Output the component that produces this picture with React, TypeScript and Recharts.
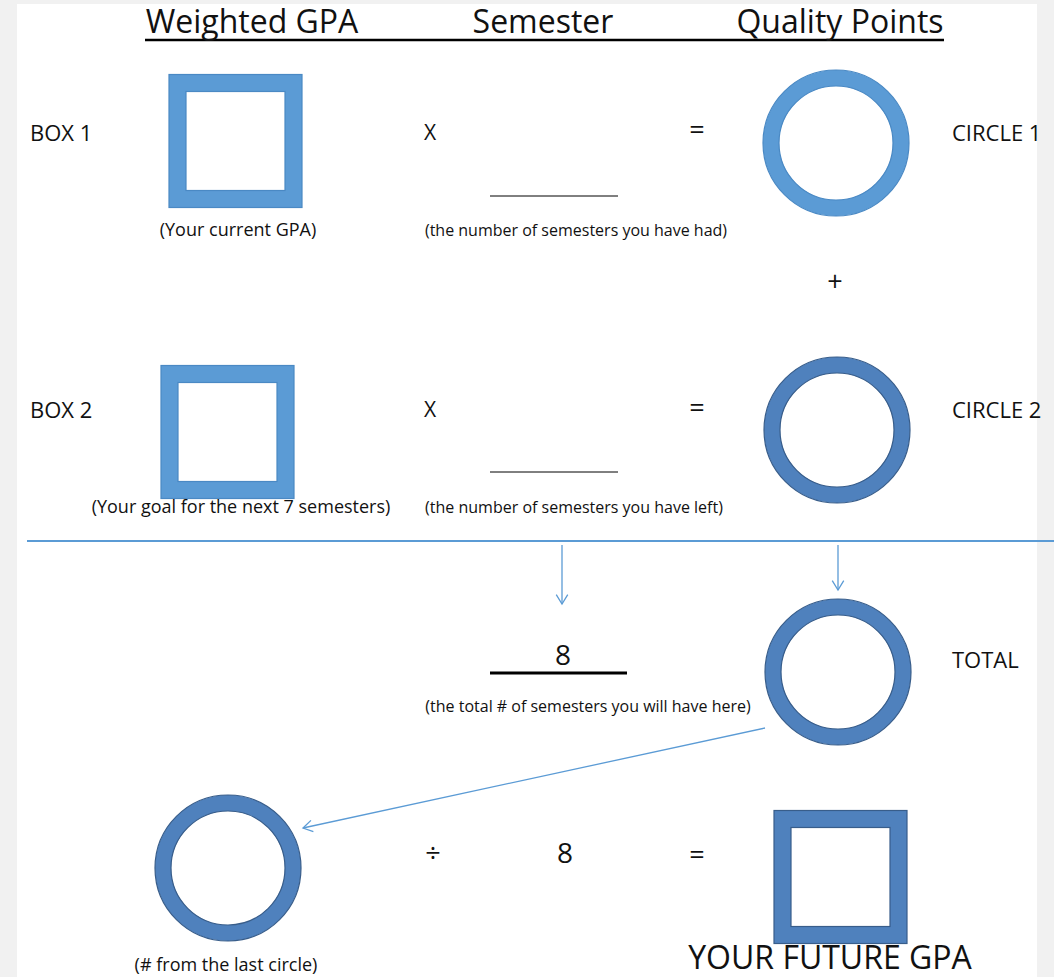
import {
  ReferenceArea,
  ReferenceLine,
  Scatter,
  ScatterChart,
  XAxis,
  YAxis,
} from "recharts";

// worksheet canvas, in chart units (1 unit = 1px)
const W = 1054;
const H = 977;

const LIGHT = "#5b9bd5";
const LIGHT_EDGE = "#4a89c4";
const DARK = "#4f81bd";
const DARK_EDGE = "#385d8a";
const ARROW = "#5b9bd5";
const INK = "#111111";

const BOX = 133;
const BOX_BAND = 17;
const RING_R = 73;
const RING_BAND = 16;

// shapes (centres)
const lightBoxes = [
  { x: 235.5, y: 141 },
  { x: 227.5, y: 432 },
];
const darkBoxes = [{ x: 840.5, y: 877 }];
const lightRings = [{ x: 836, y: 143 }];
const darkRings = [
  { x: 837, y: 430 },
  { x: 838, y: 672 },
  { x: 228, y: 868 },
];

// texts (x = anchor, y = baseline)
const headings = [
  { x: 252, y: 33, text: "Weighted GPA" },
  { x: 543, y: 33, text: "Semester" },
  { x: 840, y: 33, text: "Quality Points" },
];
const sideLabels = [
  { x: 30, y: 141, text: "BOX 1" },
  { x: 30, y: 418, text: "BOX 2" },
  { x: 952, y: 141, text: "CIRCLE 1" },
  { x: 952, y: 418, text: "CIRCLE 2" },
  { x: 952, y: 668, text: "TOTAL" },
];
const times = [
  { x: 430, y: 140, text: "X" },
  { x: 430, y: 417, text: "X" },
];
const operators = [
  { x: 697, y: 139, text: "=" },
  { x: 835, y: 291, text: "+" },
  { x: 697, y: 417, text: "=" },
  { x: 433, y: 862, text: "÷" },
  { x: 697, y: 864, text: "=" },
];
const sideNotes = [
  { x: 238, y: 236, text: "(Your current GPA)" },
  { x: 241, y: 513, text: "(Your goal for the next 7 semesters)" },
  { x: 226, y: 971, text: "(# from the last circle)" },
];
const notes = [
  { x: 576, y: 236, text: "(the number of semesters you have had)" },
  { x: 574, y: 513, text: "(the number of semesters you have left)" },
  { x: 588, y: 712, text: "(the total # of semesters you will have here)" },
];
const numbers = [
  { x: 563, y: 665, text: "8" },
  { x: 565, y: 863, text: "8" },
];
const results = [{ x: 830, y: 969, text: "YOUR FUTURE GPA" }];

// lines: [x1, y1, x2, y2, width]
const rules = [
  [145, 40, 944, 40, 2.5],
  [490, 196, 618, 196, 1],
  [490, 472, 618, 472, 1],
  [490, 673, 627, 673, 3],
];
const separator = [27, 541, 1054, 541];
const arrows = [
  [562, 545, 562, 604],
  [838, 545, 838, 590],
  [765, 728, 303, 828],
];

const seg = (a: number[]) => [
  { x: a[0], y: a[1] },
  { x: a[2], y: a[3] },
];

function Box(color: string, edge: string) {
  return (p: any) => {
    const o = BOX / 2;
    const i = o - BOX_BAND;
    return (
      <g>
        <rect x={p.cx - o} y={p.cy - o} width={BOX} height={BOX} fill={color} stroke={edge} strokeWidth={1.2} />
        <rect x={p.cx - i} y={p.cy - i} width={i * 2} height={i * 2} fill="#fff" stroke={edge} strokeWidth={1.2} />
      </g>
    );
  };
}

function Ring(color: string, edge: string) {
  return (p: any) => (
    <g>
      <circle cx={p.cx} cy={p.cy} r={RING_R} fill={color} stroke={edge} strokeWidth={1.2} />
      <circle cx={p.cx} cy={p.cy} r={RING_R - RING_BAND} fill="#fff" stroke={edge} strokeWidth={1.2} />
    </g>
  );
}

function Label(size: number, anchor: "start" | "middle") {
  return (p: any) => (
    <text x={p.cx} y={p.cy} fontSize={size} textAnchor={anchor} fill={INK} fontFamily="'Open Sans', sans-serif">
      {p.payload.text}
    </text>
  );
}

function Arrow(p: any) {
  const { x1, y1, x2, y2 } = p;
  const a = Math.atan2(y2 - y1, x2 - x1);
  const len = 11;
  const spread = 0.55;
  const ax = x2 - len * Math.cos(a - spread);
  const ay = y2 - len * Math.sin(a - spread);
  const bx = x2 - len * Math.cos(a + spread);
  const by = y2 - len * Math.sin(a + spread);
  return (
    <g fill="none" stroke={ARROW} strokeWidth={1.3}>
      <line x1={x1} y1={y1} x2={x2} y2={y2} />
      <polyline points={`${ax},${ay} ${x2},${y2} ${bx},${by}`} />
    </g>
  );
}

export default function App() {
  return (
    <div style={{ position: "absolute", left: 0, top: 0, background: "#f1f1f1" }}>
      <ScatterChart width={W} height={H} margin={{ top: 0, right: 0, bottom: 0, left: 0 }}>
        <XAxis type="number" dataKey="x" domain={[0, W]} ticks={[0, W]} allowDataOverflow scale="linear" hide />
        <YAxis type="number" dataKey="y" domain={[0, H]} ticks={[0, H]} allowDataOverflow scale="linear" reversed hide />

        <ReferenceArea x1={17} x2={1037} y1={4} y2={H} fill="#ffffff" fillOpacity={1} stroke="none" />

        {rules.map((r, i) => (
          <ReferenceLine key={`r${i}`} segment={seg(r)} stroke="#000" strokeWidth={r[4]} />
        ))}
        <ReferenceLine segment={seg(separator)} stroke={LIGHT} strokeWidth={2} />
        {arrows.map((a, i) => (
          <ReferenceLine key={`a${i}`} segment={seg(a)} shape={Arrow} />
        ))}

        <Scatter data={lightBoxes} shape={Box(LIGHT, LIGHT_EDGE)} isAnimationActive={false} />
        <Scatter data={darkBoxes} shape={Box(DARK, DARK_EDGE)} isAnimationActive={false} />
        <Scatter data={lightRings} shape={Ring(LIGHT, LIGHT_EDGE)} isAnimationActive={false} />
        <Scatter data={darkRings} shape={Ring(DARK, DARK_EDGE)} isAnimationActive={false} />

        <Scatter data={headings} shape={Label(32, "middle")} isAnimationActive={false} />
        <Scatter data={sideLabels} shape={Label(22, "start")} isAnimationActive={false} />
        <Scatter data={times} shape={Label(21, "middle")} isAnimationActive={false} />
        <Scatter data={operators} shape={Label(27, "middle")} isAnimationActive={false} />
        <Scatter data={sideNotes} shape={Label(18, "middle")} isAnimationActive={false} />
        <Scatter data={notes} shape={Label(16, "middle")} isAnimationActive={false} />
        <Scatter data={numbers} shape={Label(28, "middle")} isAnimationActive={false} />
        <Scatter data={results} shape={Label(32, "middle")} isAnimationActive={false} />
      </ScatterChart>
    </div>
  );
}
